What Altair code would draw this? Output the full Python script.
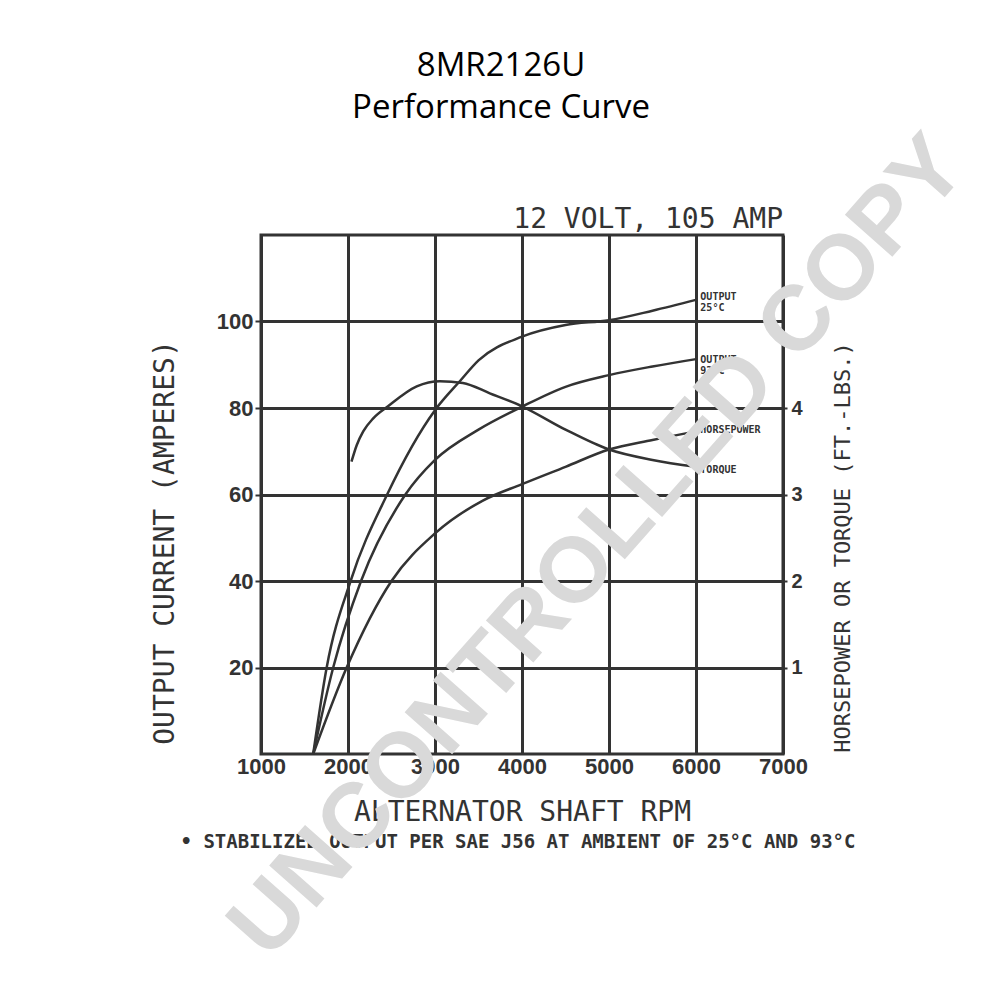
import altair as alt
import pandas as pd

# ---- data ----
x_ticks = [1000, 2000, 3000, 4000, 5000, 6000, 7000]
y_ticks_amp = [20, 40, 60, 80, 100]
y_ticks_hp = [1, 2, 3, 4]

rpm_25 = [1600, 1755, 2030, 2450, 3000, 3290, 3500, 4000, 4500, 5000, 5500, 6000]
amp_25 = [0, 20, 40, 60, 79.5, 86.3, 91, 96.5, 99.2, 100.3, 102.5, 105]

rpm_93 = [1600, 1830, 2150, 2660, 3000, 3500, 4000, 4500, 5000, 5500, 6000]
amp_93 = [0, 20, 40, 60, 68, 75, 80.3, 84.9, 87.6, 89.6, 91.3]

rpm_hp = [1600, 1985, 2500, 3000, 3550, 4000, 4500, 5000, 5500, 6000]
val_hp = [0, 1.0, 2.0, 2.55, 2.93, 3.12, 3.32, 3.52, 3.63, 3.73]

rpm_tq = [2040, 2100, 2175, 2290, 2460, 2790, 3057, 3320, 3630, 4000, 4500, 5000, 5500, 6000]
val_tq = [3.38, 3.57, 3.73, 3.88, 4.02, 4.25, 4.31, 4.29, 4.17, 4.02, 3.75, 3.52, 3.4, 3.32]

title_lines = ["8MR2126U", "Performance Curve"]

df_out = pd.concat([
    pd.DataFrame({"rpm": rpm_25, "amps": amp_25, "series": "OUTPUT 25°C"}),
    pd.DataFrame({"rpm": rpm_93, "amps": amp_93, "series": "OUTPUT 93°C"}),
])
df_hpt = pd.concat([
    pd.DataFrame({"rpm": rpm_hp, "val": val_hp, "series": "HORSEPOWER"}),
    pd.DataFrame({"rpm": rpm_tq, "val": val_tq, "series": "TORQUE"}),
])

INK = "#333333"
MONO = "DejaVu Sans Mono"

xscale = alt.Scale(domain=[1000, 7000], nice=False, zero=False)
yscale = alt.Scale(domain=[0, 120], nice=False)
y2scale = alt.Scale(domain=[0, 6], nice=False)

out_lines = alt.Chart(df_out).mark_line(
    interpolate="monotone", stroke=INK, strokeWidth=2.5
).encode(
    x=alt.X("rpm:Q", scale=xscale, axis=alt.Axis(
        values=x_ticks, format="d", title="ALTERNATOR SHAFT RPM",
        grid=True, gridColor=INK, gridWidth=3, ticks=False, domain=False,
        labelFont="Liberation Sans", labelFontWeight="bold", labelFontSize=22,
        labelColor=INK, labelPadding=2, labelFlush=False,
        titleFont=MONO, titleFontSize=28, titleFontWeight="normal", titleColor=INK,
        titleY=58, titleBaseline="middle")),
    y=alt.Y("amps:Q", scale=yscale, axis=alt.Axis(
        values=y_ticks_amp, title="OUTPUT CURRENT (AMPERES)",
        grid=True, gridColor=INK, gridWidth=3, ticks=True, tickSize=6,
        tickColor=INK, tickWidth=2, domain=False,
        labelFont="Liberation Sans", labelFontWeight="bold", labelFontSize=22,
        labelColor=INK, labelPadding=2,
        titleFont=MONO, titleFontSize=28, titleFontWeight="normal", titleColor=INK,
        titleAngle=270, titleX=-96, titleY=307, titleAlign="center",
        titleBaseline="middle")),
    detail="series:N",
)

def label(txt, xv, yv):
    return alt.Chart(pd.DataFrame({"t": [txt]})).mark_text(
        font=MONO, fontWeight="bold", fontSize=10, color=INK,
        align="left", baseline="middle", lineBreak="\n", lineHeight=11
    ).encode(x=alt.datum(xv), y=alt.datum(yv), text="t:N")

lbl_25 = label("OUTPUT\n25°C", 6050, 105.7)
lbl_93 = label("OUTPUT\n93°C", 6050, 91.2)
lbl_hp = label("HORSEPOWER", 6050, 74.9)
lbl_tq = label("TORQUE", 6050, 65.7)

head = alt.Chart(pd.DataFrame({"t": ["12 VOLT, 105 AMP"]})).mark_text(
    font=MONO, fontSize=28, color=INK, align="right", baseline="bottom", dy=-1
).encode(x=alt.datum(7000), y=alt.datum(120), text="t:N")

left = alt.layer(out_lines, lbl_25, lbl_93, lbl_hp, lbl_tq, head)

hpt_lines = alt.Chart(df_hpt).mark_line(
    interpolate="monotone", stroke=INK, strokeWidth=2.5
).encode(
    x=alt.X("rpm:Q", scale=xscale),
    y=alt.Y("val:Q", scale=y2scale, axis=alt.Axis(
        orient="right", values=y_ticks_hp, title="HORSEPOWER OR TORQUE (FT.-LBS.)",
        grid=False, ticks=True, tickSize=4, tickColor=INK, tickWidth=2, domain=False,
        labelFont="Liberation Sans", labelFontWeight="bold", labelFontSize=20,
        labelColor=INK, labelPadding=4,
        titleFont=MONO, titleFontSize=22, titleFontWeight="normal", titleColor=INK,
        titleAngle=270, titleX=59, titleY=312, titleAlign="center",
        titleBaseline="middle")),
    detail="series:N",
)

right = alt.layer(hpt_lines)

foot = alt.Chart(pd.DataFrame({"t": ["• STABILIZED OUTPUT PER SAE J56 AT AMBIENT OF 25°C AND 93°C"]})).mark_text(
    font=MONO, fontWeight="bold", fontSize=19, color=INK, align="center", baseline="middle"
).encode(x=alt.value(257), y=alt.value(607), text="t:N")

t1 = alt.Chart(pd.DataFrame({"t": [title_lines[0]]})).mark_text(
    font="Open Sans", fontSize=33, color="black", align="center", baseline="middle"
).encode(x=alt.value(240), y=alt.value(-169), text="t:N")

t2 = alt.Chart(pd.DataFrame({"t": [title_lines[1]]})).mark_text(
    font="Open Sans", fontSize=33, color="black", align="center", baseline="middle"
).encode(x=alt.value(240), y=alt.value(-127), text="t:N")

wm = alt.Chart(pd.DataFrame({"t": ["UNCONTROLLED COPY"]})).mark_text(
    font="Liberation Sans", fontWeight="bold", fontSize=92, color="#d9d9d9",
    align="center", baseline="middle", angle=311.5
).encode(x=alt.value(337), y=alt.value(312), text="t:N")

chart = alt.layer(left, right, foot, t1, t2, wm).resolve_scale(y="independent").properties(
    width=522, height=519,
    autosize=alt.AutoSizeParams(type="none"),
    padding={"left": 253, "top": 227, "right": 200, "bottom": 230},
    background="white",
).configure_view(stroke=INK, strokeWidth=3)

chart.save("out.html", embed_options={"renderer": "svg", "actions": False})
